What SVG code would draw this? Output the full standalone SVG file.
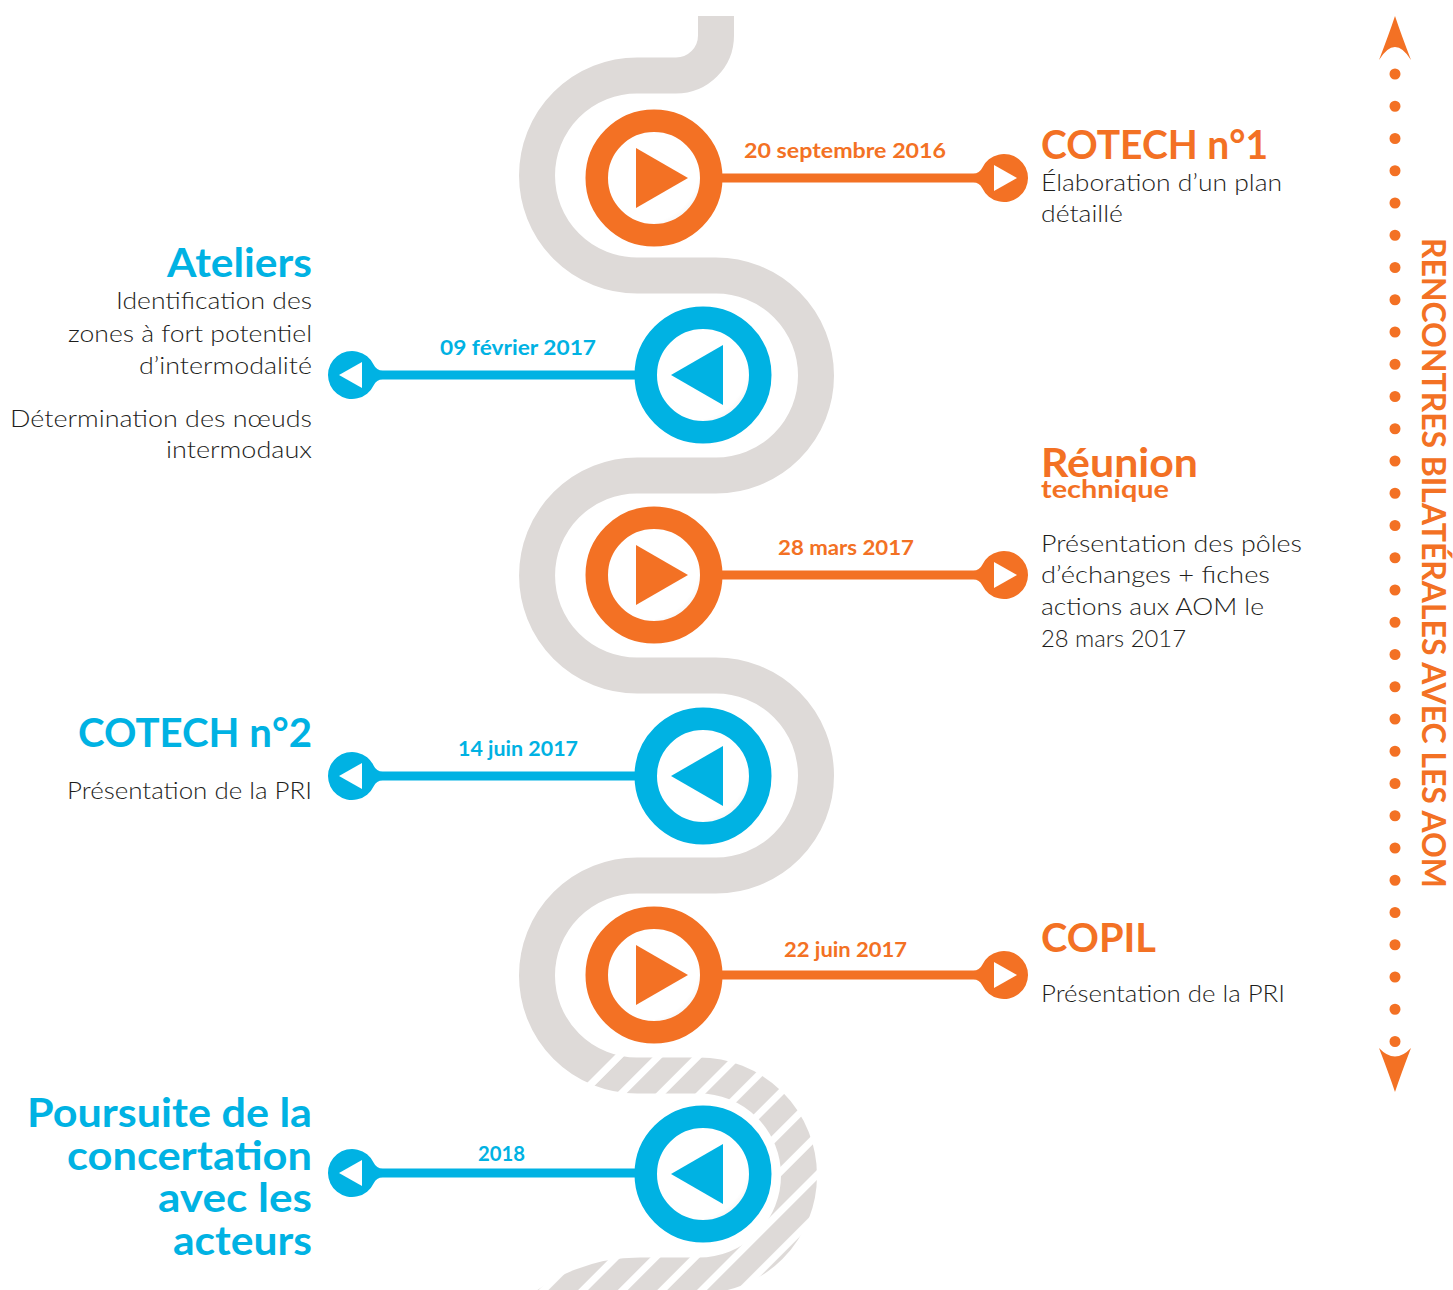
<svg xmlns="http://www.w3.org/2000/svg" width="1453" height="1290" viewBox="0 0 1453 1290">
<style>
.bg{fill:#ffffff}
.road{fill:none;stroke:#dedad8;stroke-width:36}
.hroad{fill:none;stroke:url(#hatch);stroke-width:36}
.ring-o{fill:url(#inner);stroke:#f37124;stroke-width:22.5}
.ring-b{fill:url(#inner);stroke:#00b2e3;stroke-width:22.5}
.fo{fill:#f37124}
.fb{fill:#00b2e3}
.date{font-family:Lato,"Liberation Sans",sans-serif;font-weight:700;font-size:21px}
.title{font-family:Lato,"Liberation Sans",sans-serif;font-weight:700;font-size:40px}
.sub{font-family:Lato,"Liberation Sans",sans-serif;font-weight:700;font-size:25px}
.body{font-family:Lato,"Liberation Sans",sans-serif;font-weight:300;font-size:24px;fill:#1d1d1b}
.vert{font-family:Lato,"Liberation Sans",sans-serif;font-weight:700;font-size:32px;fill:#f37124}
</style>
<defs>
<pattern id="hatch" patternUnits="userSpaceOnUse" x="12" y="0" width="28" height="28" patternTransform="rotate(45)">
<rect x="0" y="0" width="21" height="28" fill="#dedad8"/>
</pattern>
<radialGradient id="inner" cx="0.4" cy="0.4" r="0.62">
<stop offset="0.8" stop-color="#ffffff"/>
<stop offset="1" stop-color="#ececec"/>
</radialGradient>
<clipPath id="solidClip"><polygon points="0,0 1453,0 1453,950 720,950 380,1290 0,1290"/></clipPath>
<clipPath id="hatchClip"><polygon points="730,950 1453,950 1453,1290 390,1290"/></clipPath>
<path id="capPath" d="M-283,-4.5 L-30.75,-4.5 A10 10 0 0 0 -21.7,-10.24 A24 24 0 1 1 -21.7,10.24 A10 10 0 0 0 -30.75,4.5 L-283,4.5 Z"/>
<polygon id="capTri" points="-10,-13 -10,13 13,0" fill="#ffffff"/>
</defs>
<rect class="bg" x="0" y="0" width="1453" height="1290"/>

<g id="road">
<path class="road" clip-path="url(#solidClip)" d="M716,16 L716,35.5 A40,40 0 0 1 676,75.5 L637,75.5 A100,100 0 0 0 637,275.5 L716,275.5 A100,100 0 0 1 716,475.5 L637,475.5 A100,100 0 0 0 637,675.5 L716,675.5 A100,100 0 0 1 716,875.5 L637,875.5 A100,100 0 0 0 637,1075.5 L699,1075.5"/>
<path class="hroad" clip-path="url(#hatchClip)" d="M637,875.5 A100,100 0 0 0 637,1075.5 L699,1075.5 A100,100 0 0 1 699,1275.5 L640,1275.5 C600,1275.5 560,1290 530,1320"/>
</g>

<g id="connectors">
<g transform="translate(1004,178)"><use href="#capPath" class="fo"/><use href="#capTri"/></g>
<g transform="translate(352,375) scale(-1,1)"><use href="#capPath" class="fb"/><use href="#capTri"/></g>
<g transform="translate(1004,575)"><use href="#capPath" class="fo"/><use href="#capTri"/></g>
<g transform="translate(352,776) scale(-1,1)"><use href="#capPath" class="fb"/><use href="#capTri"/></g>
<g transform="translate(1004,975)"><use href="#capPath" class="fo"/><use href="#capTri"/></g>
<g transform="translate(352,1173) scale(-1,1)"><use href="#capPath" class="fb"/><use href="#capTri"/></g>
</g>

<g id="node-cotech1">
<circle class="ring-o" cx="654" cy="178" r="57.25"/>
<polygon class="fo" points="636,148 636,208 688,178"/>
<text class="date fo" x="744" y="158" textLength="202" lengthAdjust="spacingAndGlyphs">20 septembre 2016</text>
<text class="title fo" x="1041" y="159" textLength="227" lengthAdjust="spacingAndGlyphs">COTECH n°1</text>
<text class="body" x="1041" y="191" textLength="241" lengthAdjust="spacingAndGlyphs">Élaboration d’un plan</text>
<text class="body" x="1041" y="222" textLength="82" lengthAdjust="spacingAndGlyphs">détaillé</text>
</g>

<g id="node-ateliers">
<circle class="ring-b" cx="703" cy="375" r="57.25"/>
<polygon class="fb" points="671,375 723,345 723,405"/>
<text class="date fb" x="440" y="355" textLength="156" lengthAdjust="spacingAndGlyphs">09 février 2017</text>
<text class="title fb" x="167" y="277" textLength="145" lengthAdjust="spacingAndGlyphs">Ateliers</text>
<text class="body" x="116" y="309" textLength="196" lengthAdjust="spacingAndGlyphs">Identification des</text>
<text class="body" x="68" y="342" textLength="244" lengthAdjust="spacingAndGlyphs">zones à fort potentiel</text>
<text class="body" x="139" y="374" textLength="173" lengthAdjust="spacingAndGlyphs">d’intermodalité</text>
<text class="body" x="10" y="427" textLength="302" lengthAdjust="spacingAndGlyphs">Détermination des nœuds</text>
<text class="body" x="166" y="458" textLength="146" lengthAdjust="spacingAndGlyphs">intermodaux</text>
</g>

<g id="node-reunion">
<circle class="ring-o" cx="654" cy="575" r="57.25"/>
<polygon class="fo" points="636,545 636,605 688,575"/>
<text class="date fo" x="778" y="555" textLength="136" lengthAdjust="spacingAndGlyphs">28 mars 2017</text>
<text class="title fo" x="1041" y="477" textLength="157" lengthAdjust="spacingAndGlyphs">Réunion</text>
<text class="sub fo" x="1041" y="498" textLength="128" lengthAdjust="spacingAndGlyphs">technique</text>
<text class="body" x="1041" y="552" textLength="261" lengthAdjust="spacingAndGlyphs">Présentation des pôles</text>
<text class="body" x="1041" y="583" textLength="229" lengthAdjust="spacingAndGlyphs">d’échanges + fiches</text>
<text class="body" x="1041" y="615" textLength="223" lengthAdjust="spacingAndGlyphs">actions aux AOM le</text>
<text class="body" x="1041" y="647" textLength="145" lengthAdjust="spacingAndGlyphs">28 mars 2017</text>
</g>

<g id="node-cotech2">
<circle class="ring-b" cx="703" cy="776" r="57.25"/>
<polygon class="fb" points="671,776 723,746 723,806"/>
<text class="date fb" x="458" y="756" textLength="120" lengthAdjust="spacingAndGlyphs">14 juin 2017</text>
<text class="title fb" x="78" y="747" textLength="234" lengthAdjust="spacingAndGlyphs">COTECH n°2</text>
<text class="body" x="67" y="799" textLength="245" lengthAdjust="spacingAndGlyphs">Présentation de la PRI</text>
</g>

<g id="node-copil">
<circle class="ring-o" cx="654" cy="975" r="57.25"/>
<polygon class="fo" points="636,945 636,1005 688,975"/>
<text class="date fo" x="784" y="957" textLength="123" lengthAdjust="spacingAndGlyphs">22 juin 2017</text>
<text class="title fo" x="1041" y="952" textLength="115" lengthAdjust="spacingAndGlyphs">COPIL</text>
<text class="body" x="1041" y="1002" textLength="244" lengthAdjust="spacingAndGlyphs">Présentation de la PRI</text>
</g>

<g id="node-poursuite">
<circle class="ring-b" cx="703" cy="1174" r="57.25"/>
<polygon class="fb" points="671,1174 723,1144 723,1204"/>
<text class="date fb" x="478" y="1161" textLength="47" lengthAdjust="spacingAndGlyphs">2018</text>
<text class="title fb" x="27" y="1127" textLength="285" lengthAdjust="spacingAndGlyphs">Poursuite de la</text>
<text class="title fb" x="67" y="1170" textLength="245" lengthAdjust="spacingAndGlyphs">concertation</text>
<text class="title fb" x="158" y="1212" textLength="154" lengthAdjust="spacingAndGlyphs">avec les</text>
<text class="title fb" x="173" y="1255" textLength="139" lengthAdjust="spacingAndGlyphs">acteurs</text>
</g>

<g id="rencontres">
<line x1="1395" y1="74" x2="1395" y2="1042" stroke="#f37124" stroke-width="11" stroke-linecap="round" stroke-dasharray="0 32.25"/>
<path class="fo" d="M1395,16 Q1401,34 1411,60 Q1395,34 1379,60 Q1389,34 1395,16 Z"/>
<path class="fo" d="M1395,1092 Q1401,1074 1411,1048 Q1395,1065 1379,1048 Q1389,1074 1395,1092 Z"/>
<text class="vert" transform="translate(1422,238) rotate(90)" x="0" y="0" textLength="650" lengthAdjust="spacingAndGlyphs">RENCONTRES BILATÉRALES AVEC LES AOM</text>
</g>
</svg>
